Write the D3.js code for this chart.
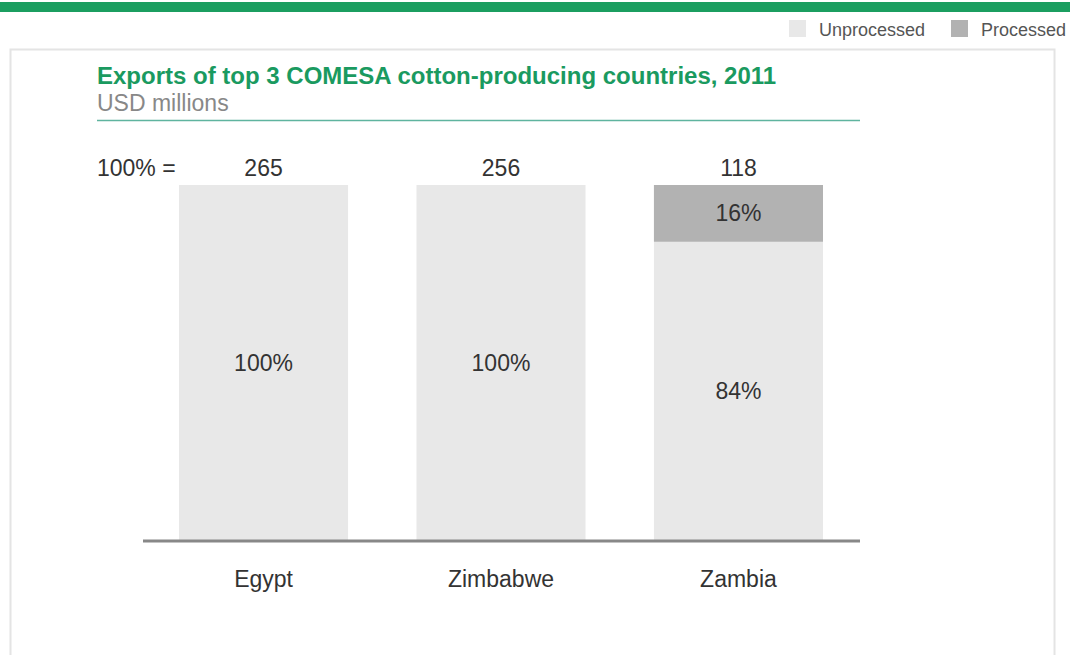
<!DOCTYPE html>
<html>
<head>
<meta charset="utf-8">
<script src="https://cdn.jsdelivr.net/npm/d3@7"></script>
<style>
  html, body { margin: 0; padding: 0; background: #fff; }
  svg { display: block; font-family: "Liberation Sans", Arial, sans-serif; }
</style>
</head>
<body>
<svg id="chart" width="1070" height="655"></svg>
<script>
// ---- Data ----
const categories = ["Egypt", "Zimbabwe", "Zambia"];
const totals = [265, 256, 118];
const unprocessed = [100, 100, 84];
const processed = [0, 0, 16];
const seriesNames = ["Unprocessed", "Processed"];
const seriesColors = ["#e8e8e8", "#b2b2b2"];

const svg = d3.select("#chart");
const FS = 23;

// Top green band
svg.append("rect").attr("x", 0).attr("y", 2).attr("width", 1070).attr("height", 10).attr("fill", "#1b9e60");

// Panel
svg.append("rect").attr("x", 10.5).attr("y", 49.5).attr("width", 1044).attr("height", 620)
  .attr("fill", "#fff").attr("stroke", "#e4e4e4").attr("stroke-width", 2);

// Legend
const legend = [{x: 789, name: seriesNames[0], color: seriesColors[0]}, {x: 951, name: seriesNames[1], color: seriesColors[1]}];
legend.forEach(l => {
  svg.append("rect").attr("x", l.x).attr("y", 20).attr("width", 17).attr("height", 17).attr("fill", l.color);
  svg.append("text").attr("x", l.x + 30).attr("y", 36).attr("font-size", 18).attr("fill", "#555").text(l.name);
});

// Title
svg.append("text").attr("x", 97).attr("y", 84).attr("font-size", 24).attr("font-weight", "bold")
  .attr("fill", "#1a9a60").text("Exports of top 3 COMESA cotton-producing countries, 2011");
svg.append("text").attr("x", 97).attr("y", 111).attr("font-size", FS).attr("fill", "#888").text("USD millions");
svg.append("line").attr("x1", 97).attr("x2", 860).attr("y1", 120.5).attr("y2", 120.5)
  .attr("stroke", "#5fb49f").attr("stroke-width", 1.5);

// Scales
const x = d3.scaleBand().domain(categories).range([179, 823]).paddingInner(0.288).paddingOuter(0);
const y = d3.scaleLinear().domain([0, 100]).range([540, 185]);

const rows = categories.map((c, i) => ({cat: c, Unprocessed: unprocessed[i], Processed: processed[i], total: totals[i]}));
const stack = d3.stack().keys(seriesNames)(rows);

const g = svg.append("g");
stack.forEach((layer, li) => {
  g.selectAll(null).data(layer).enter().append("rect")
    .attr("x", d => x(d.data.cat))
    .attr("y", d => y(d[1]))
    .attr("width", x.bandwidth())
    .attr("height", d => y(d[0]) - y(d[1]))
    .attr("fill", seriesColors[li]);
  g.selectAll(null).data(layer.filter(d => d[1] - d[0] > 0)).enter().append("text")
    .attr("x", d => x(d.data.cat) + x.bandwidth() / 2)
    .attr("y", d => (y(d[0]) + y(d[1])) / 2 + 8)
    .attr("text-anchor", "middle").attr("font-size", FS).attr("fill", "#333")
    .text(d => (d[1] - d[0]) + "%");
});

// Totals
svg.append("text").attr("x", 97).attr("y", 176).attr("font-size", FS).attr("fill", "#333").text("100% =");
svg.selectAll(null).data(rows).enter().append("text")
  .attr("x", d => x(d.cat) + x.bandwidth() / 2).attr("y", 176)
  .attr("text-anchor", "middle").attr("font-size", FS).attr("fill", "#333")
  .text(d => d.total);

// Axis
const axis = svg.append("g").attr("transform", "translate(0,541)")
  .call(d3.axisBottom(x).tickSize(0).tickPadding(30));
axis.select(".domain").attr("d", "M143,0H860").attr("stroke", "#888").attr("stroke-width", 3);
axis.selectAll(".tick text").attr("font-size", FS).attr("fill", "#333")
  .attr("font-family", "'Liberation Sans', Arial, sans-serif");
</script>
</body>
</html>
